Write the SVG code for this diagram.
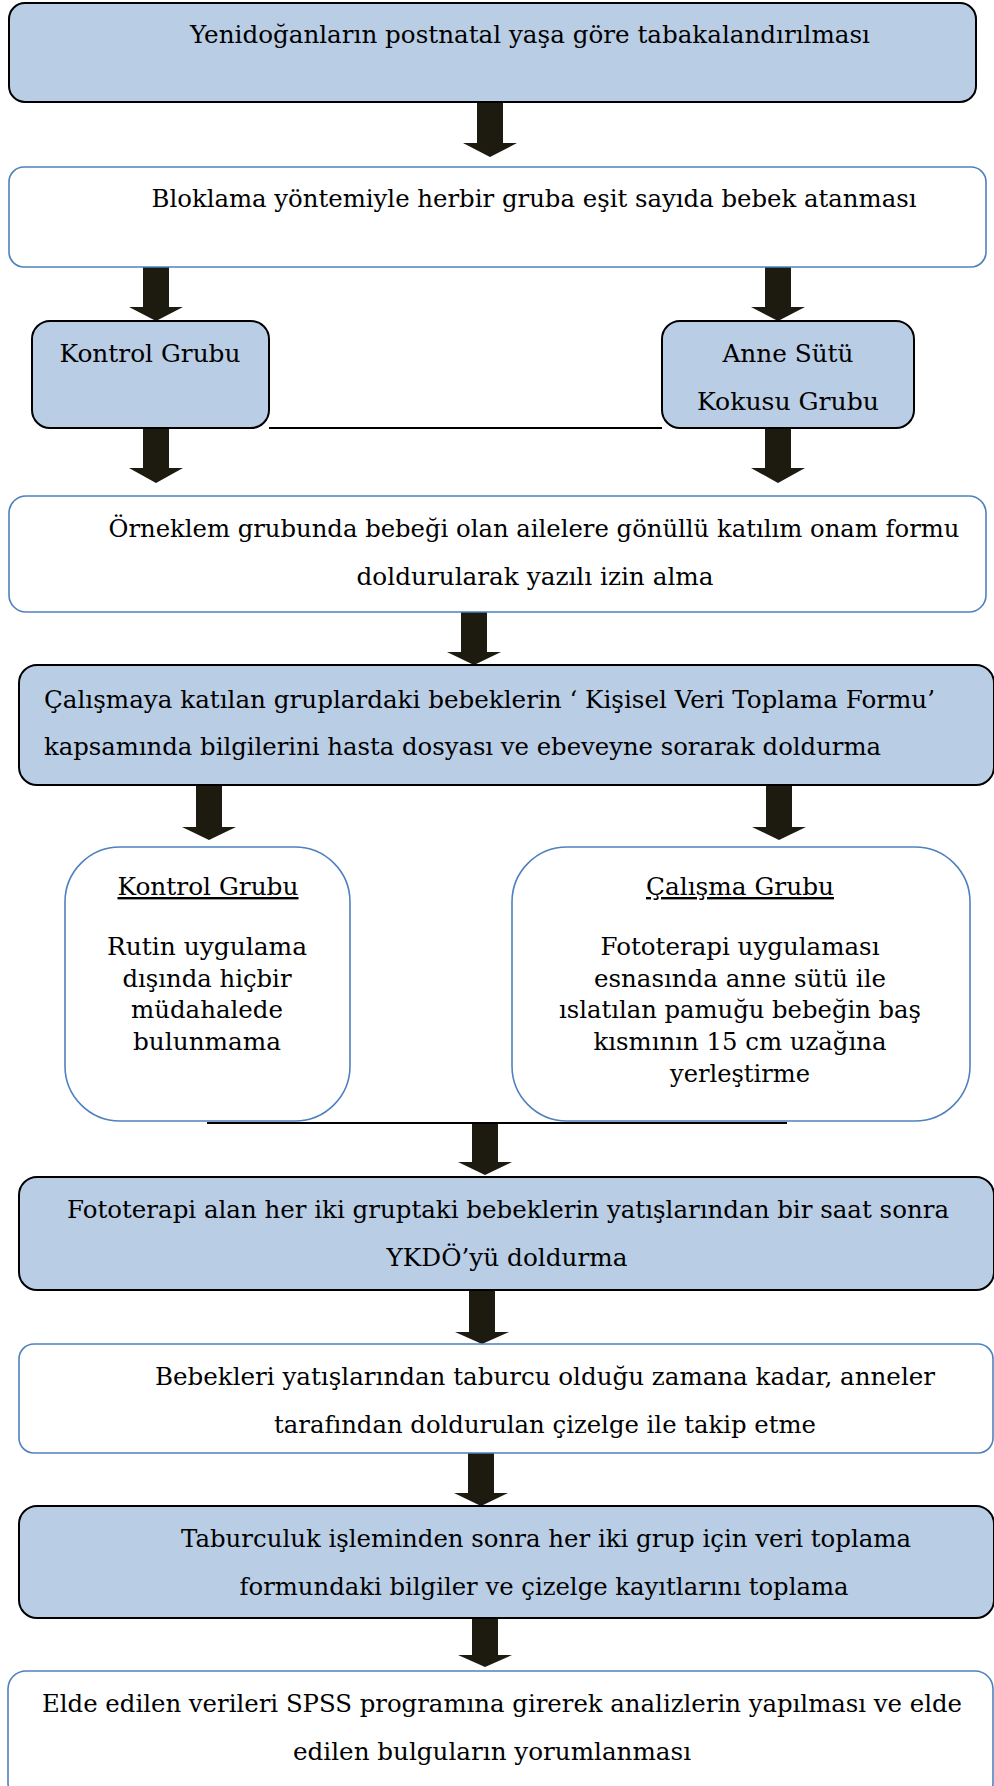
<svg xmlns="http://www.w3.org/2000/svg" width="994" height="1786" viewBox="0 0 994 1786">
<style>
.bb{fill:#b9cde5;stroke:#000;stroke-width:2}
.wb{fill:#fff;stroke:#4f81bd;stroke-width:1.6}
.t{font-family:"DejaVu Serif","Liberation Serif",serif;font-size:24px;fill:#000}
.m{text-anchor:middle}
.arr{fill:#1d1a10}
.ln{stroke:#000;stroke-width:2;fill:none}
</style>
<rect width="994" height="1786" fill="#fff"/>
<g id="connectors">
<polygon class="arr" points="477,102 503,102 503,143 517,143 490,157 463,143 477,143"/>
<polygon class="arr" points="143,267 169,267 169,307 183,307 156,321 129,307 143,307"/>
<polygon class="arr" points="765,267 791,267 791,307 805,307 778,321 751,307 765,307"/>
<polygon class="arr" points="143,428 169,428 169,468 183,468 156,483 129,468 143,468"/>
<polygon class="arr" points="765,428 791,428 791,468 805,468 778,483 751,468 765,468"/>
<polygon class="arr" points="461,612 487,612 487,652 501,652 474,665 447,652 461,652"/>
<polygon class="arr" points="196,785 222,785 222,827 236,827 209,840 182,827 196,827"/>
<polygon class="arr" points="766,785 792,785 792,827 806,827 779,840 752,827 766,827"/>
<polygon class="arr" points="472,1123 498,1123 498,1162 512,1162 485,1175 458,1162 472,1162"/>
<polygon class="arr" points="469,1290 495,1290 495,1332 509,1332 482,1344 455,1332 469,1332"/>
<polygon class="arr" points="468,1453 494,1453 494,1493 508,1493 481,1506 454,1493 468,1493"/>
<polygon class="arr" points="472,1618 498,1618 498,1655 512,1655 485,1667 458,1655 472,1655"/>
<line class="ln" x1="269" y1="428" x2="662" y2="428"/>
<line class="ln" x1="207" y1="1123" x2="787" y2="1123"/>
</g>
<g id="n1">
<rect class="bb" x="9" y="3" width="967" height="99" rx="16"/>
<text class="t m" x="530" y="43" textLength="680" lengthAdjust="spacingAndGlyphs">Yenidoğanların postnatal yaşa göre tabakalandırılması</text>
</g>
<g id="n2">
<rect class="wb" x="9" y="167" width="977" height="100" rx="15"/>
<text class="t m" x="534" y="207" textLength="765" lengthAdjust="spacingAndGlyphs">Bloklama yöntemiyle herbir gruba eşit sayıda bebek atanması</text>
</g>
<g id="n3">
<rect class="bb" x="32" y="321" width="237" height="107" rx="18"/>
<text class="t m" x="150" y="362" textLength="181" lengthAdjust="spacingAndGlyphs">Kontrol Grubu</text>
</g>
<g id="n4">
<rect class="bb" x="662" y="321" width="252" height="107" rx="18"/>
<text class="t m" x="788" y="362" textLength="131" lengthAdjust="spacingAndGlyphs">Anne Sütü</text>
<text class="t m" x="788" y="410" textLength="182" lengthAdjust="spacingAndGlyphs">Kokusu Grubu</text>
</g>
<g id="n5">
<rect class="wb" x="9" y="496" width="977" height="116" rx="17"/>
<text class="t m" x="534" y="537" textLength="851" lengthAdjust="spacingAndGlyphs">Örneklem grubunda bebeği olan ailelere gönüllü katılım onam formu</text>
<text class="t m" x="535" y="585" textLength="357" lengthAdjust="spacingAndGlyphs">doldurularak yazılı izin alma</text>
</g>
<g id="n6">
<rect class="bb" x="19" y="665" width="975" height="120" rx="18"/>
<text class="t" x="44" y="708" textLength="891" lengthAdjust="spacingAndGlyphs">Çalışmaya katılan gruplardaki bebeklerin ‘ Kişisel Veri Toplama Formu’</text>
<text class="t" x="44" y="755" textLength="837" lengthAdjust="spacingAndGlyphs">kapsamında bilgilerini hasta dosyası ve ebeveyne sorarak doldurma</text>
</g>
<g id="n7">
<rect class="wb" x="65" y="847" width="285" height="274" rx="55"/>
<text class="t m" x="208" y="895" text-decoration="underline" textLength="181" lengthAdjust="spacingAndGlyphs">Kontrol Grubu</text>
<text class="t m" x="207" y="955" textLength="200" lengthAdjust="spacingAndGlyphs">Rutin uygulama</text>
<text class="t m" x="207" y="987" textLength="169" lengthAdjust="spacingAndGlyphs">dışında hiçbir</text>
<text class="t m" x="207" y="1018" textLength="152" lengthAdjust="spacingAndGlyphs">müdahalede</text>
<text class="t m" x="207" y="1050" textLength="148" lengthAdjust="spacingAndGlyphs">bulunmama</text>
</g>
<g id="n8">
<rect class="wb" x="512" y="847" width="458" height="274" rx="55"/>
<text class="t m" x="740" y="895" text-decoration="underline" textLength="188" lengthAdjust="spacingAndGlyphs">Çalışma Grubu</text>
<text class="t m" x="740" y="955" textLength="279" lengthAdjust="spacingAndGlyphs">Fototerapi uygulaması</text>
<text class="t m" x="740" y="987" textLength="292" lengthAdjust="spacingAndGlyphs">esnasında anne sütü ile</text>
<text class="t m" x="740" y="1018" textLength="362" lengthAdjust="spacingAndGlyphs">ıslatılan pamuğu bebeğin baş</text>
<text class="t m" x="740" y="1050" textLength="293" lengthAdjust="spacingAndGlyphs">kısmının 15 cm uzağına</text>
<text class="t m" x="740" y="1082" textLength="140" lengthAdjust="spacingAndGlyphs">yerleştirme</text>
</g>
<g id="n9">
<rect class="bb" x="19" y="1177" width="975" height="113" rx="18"/>
<text class="t m" x="508" y="1218" textLength="882" lengthAdjust="spacingAndGlyphs">Fototerapi alan her iki gruptaki bebeklerin yatışlarından bir saat sonra</text>
<text class="t m" x="507" y="1266" textLength="241" lengthAdjust="spacingAndGlyphs">YKDÖ’yü doldurma</text>
</g>
<g id="n10">
<rect class="wb" x="19" y="1344" width="974" height="109" rx="15"/>
<text class="t m" x="545" y="1385" textLength="780" lengthAdjust="spacingAndGlyphs">Bebekleri yatışlarından taburcu olduğu zamana kadar, anneler</text>
<text class="t m" x="545" y="1433" textLength="542" lengthAdjust="spacingAndGlyphs">tarafından doldurulan çizelge ile takip etme</text>
</g>
<g id="n11">
<rect class="bb" x="19" y="1506" width="975" height="112" rx="18"/>
<text class="t m" x="546" y="1547" textLength="730" lengthAdjust="spacingAndGlyphs">Taburculuk işleminden sonra her iki grup için veri toplama</text>
<text class="t m" x="544" y="1595" textLength="609" lengthAdjust="spacingAndGlyphs">formundaki bilgiler ve çizelge kayıtlarını toplama</text>
</g>
<g id="n12">
<rect class="wb" x="8" y="1671" width="985" height="130" rx="18"/>
<text class="t m" x="502" y="1712" textLength="920" lengthAdjust="spacingAndGlyphs">Elde edilen verileri SPSS programına girerek analizlerin yapılması ve elde</text>
<text class="t m" x="492" y="1760" textLength="398" lengthAdjust="spacingAndGlyphs">edilen bulguların yorumlanması</text>
</g>
</svg>
